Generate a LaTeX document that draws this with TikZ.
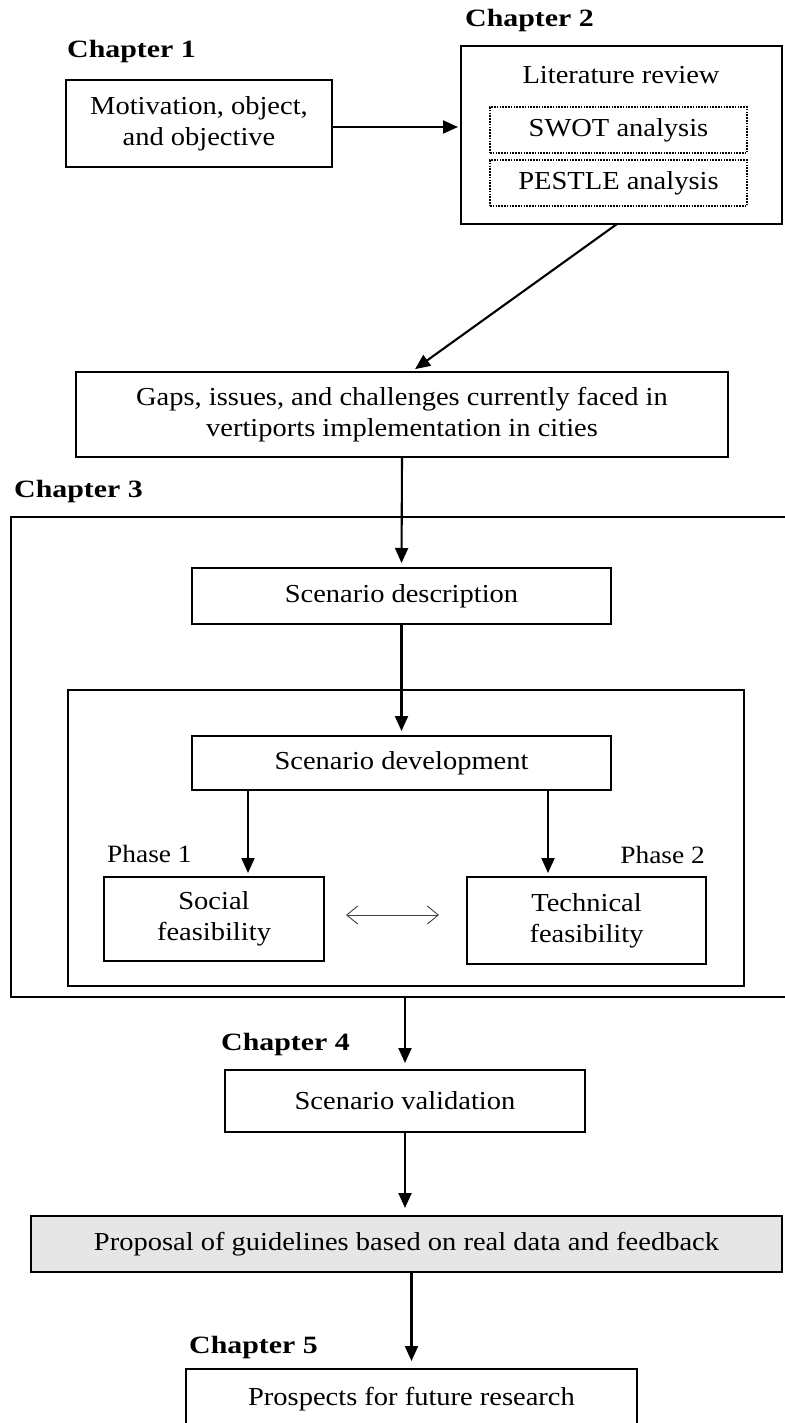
\documentclass[tikz,border=0pt]{standalone}
\usepackage{fontspec}
\setmainfont[FakeStretch=1.1, BoldFeatures={FakeStretch=1.2}]{Liberation Serif}
\usetikzlibrary{arrows.meta}
\definecolor{boxgray}{HTML}{E6E6E6}
\begin{document}
\begin{tikzpicture}[x=1bp,y=-1bp,
  every node/.style={font=\fontsize{26}{31}\selectfont},
  heavybox/.style={draw, line width=2.5bp, inner sep=0pt, outer sep=0pt, align=center},
  lightbox/.style={draw, line width=1.4bp, inner sep=0pt, outer sep=0pt, align=center},
  dotbox/.style={draw, line width=1.3bp, dash pattern=on 1.6bp off 1.2bp, inner sep=0pt, outer sep=0pt},
  chap/.style={anchor=base west, inner sep=0pt, font=\fontsize{25}{28}\selectfont\bfseries},
  phase/.style={inner sep=0pt, font=\fontsize{25}{28}\selectfont},
  plain/.style={inner sep=0pt},
  flow/.style={line width=2.1bp, -{Triangle[length=15bp,width=13bp]}},
  twoway/.style={line width=0.9bp, draw=black!75, {Straight Barb[length=11bp,width=18bp]}-{Straight Barb[length=11bp,width=18bp]}}
]
\useasboundingbox (0,0) rectangle (784,1423);

% chapter headings
\node[chap] (ch1) at (67,58) {Chapter 1};
\node[chap] (ch2) at (465,27) {Chapter 2};
\node[chap] (ch3) at (14,497) {Chapter 3};
\node[chap] (ch4) at (221,1050) {Chapter 4};
\node[chap] (ch5) at (189,1353) {Chapter 5};

% chapter 1 and 2
\node[heavybox, minimum width=266bp, minimum height=87bp] (mot) at (199,123.5)
  {Motivation, object,\\and objective};
\node[heavybox, minimum width=321bp, minimum height=178bp] (lit) at (621.5,135) {};
\node[plain] (littitle) at (621,75) {Literature review};
\node[dotbox, minimum width=257bp, minimum height=46bp] (swot) at (618.5,130) {SWOT analysis};
\node[dotbox, minimum width=257bp, minimum height=46bp] (pestle) at (618.5,183) {PESTLE analysis};

\node[lightbox, minimum width=652bp, minimum height=85bp] (gaps) at (402,414.5)
  {Gaps, issues, and challenges currently faced in\\vertiports implementation in cities};

% chapter 3
\node[heavybox, minimum width=779bp, minimum height=480bp] (frame3) at (400.5,757) {};
\node[lightbox, minimum width=419bp, minimum height=56bp] (desc) at (401.5,596) {Scenario description};
\node[lightbox, minimum width=676bp, minimum height=296bp] (inner) at (406,838) {};
\node[lightbox, minimum width=419bp, minimum height=54bp] (dev) at (401.5,763) {Scenario development};
\node[lightbox, minimum width=220bp, minimum height=84bp] (social) at (214,919) {Social\\feasibility};
\node[lightbox, minimum width=239bp, minimum height=87bp] (tech) at (586.5,920.5) {Technical\\feasibility};
\node[phase, anchor=base west] (ph1) at (107,862) {Phase 1};
\node[phase, anchor=base east] (ph2) at (705,863) {Phase 2};

% chapters 4 and 5
\node[heavybox, minimum width=360bp, minimum height=62bp] (valid) at (405,1101) {Scenario validation};
\node[heavybox, fill=boxgray, minimum width=751bp, minimum height=56bp] (prop) at (406.5,1244)
  {Proposal of guidelines based on real data and feedback};
\node[heavybox, minimum width=451bp, minimum height=61bp] (pros) at (411.5,1399.5) {Prospects for future research};

% helper points
\coordinate (rowA) at (0,127);
\coordinate (litout) at (617,224);
\coordinate (gapsin) at (411,372);
\coordinate (colL) at (248,0);
\coordinate (colR) at (548,0);
\coordinate (rowB) at (0,915);

% connectors
\draw[flow, shorten >=3bp] (mot.east |- rowA) -- (lit.west |- rowA);
\draw[flow, shorten >=5bp] (litout) -- (gapsin);
\draw[flow, shorten >=5bp] (gaps.south) -- (desc.north);
\draw[flow, shorten >=5bp] (desc.south) -- (dev.north);
\draw[flow, shorten >=4bp] (dev.south -| colL) -- (social.north -| colL);
\draw[flow, shorten >=4bp] (dev.south -| colR) -- (tech.north -| colR);
\draw[twoway, shorten <=22bp, shorten >=28bp] (social.east |- rowB) -- (tech.west |- rowB);
\draw[flow, shorten >=7bp] (valid.north |- frame3.south) -- (valid.north);
\draw[flow, shorten >=8bp] (valid.south) -- (prop.north -| valid.south);
\draw[flow, shorten >=8bp] (prop.south -| pros.north) -- (pros.north);
\end{tikzpicture}
\end{document}
